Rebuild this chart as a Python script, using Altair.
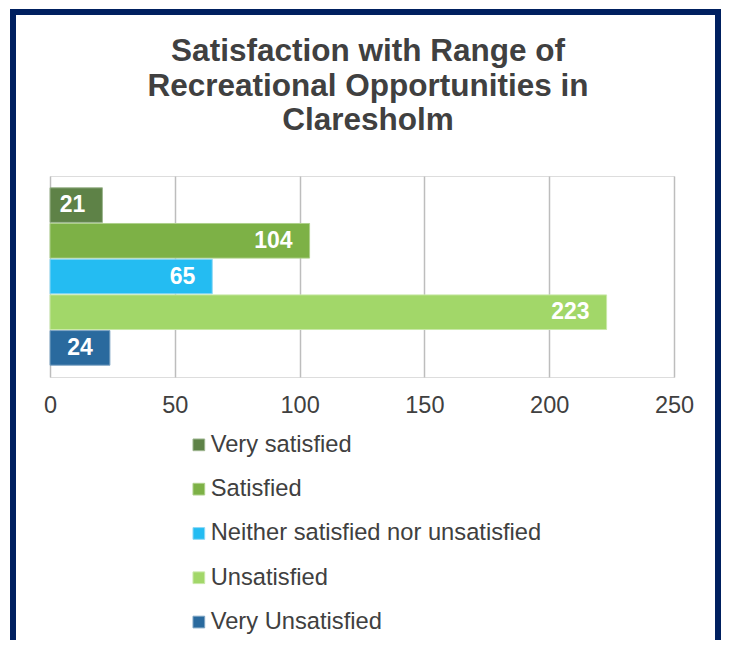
import altair as alt
import pandas as pd

categories = ["Very satisfied", "Satisfied", "Neither satisfied nor unsatisfied",
              "Unsatisfied", "Very Unsatisfied"]
counts = [21, 104, 65, 223, 24]
fill_colors = ["#5E8247", "#7DB146", "#24BCF2", "#A2D769", "#2A6A9E"]
edge_colors = ["#9DB58F", "#AED08A", "#8ED8F5", "#C9E8A8", "#7FA5C4"]
tick_values = [0, 50, 100, 150, 200, 250]
title_lines = ["Satisfaction with Range of", "Recreational Opportunities in", "Claresholm"]

df = pd.DataFrame({"Response": categories, "Count": counts})

FONT = "Liberation Sans"
TXT = "#404040"

y_enc = alt.Y("Response:N", sort=categories, axis=None,
              scale=alt.Scale(paddingInner=0.03, paddingOuter=0.33))
x_enc = alt.X("Count:Q", scale=alt.Scale(domain=[0, 250], nice=False),
              axis=alt.Axis(values=tick_values, title=None, domain=False, ticks=False,
                            labelFlush=False, labelPadding=16, labelFontSize=23.5,
                            labelColor=TXT, labelFont=FONT, grid=True,
                            gridColor="#bdbdbd", gridWidth=1.5))

legend = alt.Legend(title=None, orient="none", legendX=137, legendY=257,
                    direction="vertical", symbolType="square", symbolSize=137,
                    symbolStrokeWidth=1, labelFontSize=23.7, labelColor=TXT,
                    labelFont=FONT, labelLimit=0, rowPadding=19.3, labelOffset=0)

bars = alt.Chart(df).mark_bar(strokeWidth=1).encode(
    x=x_enc,
    y=y_enc,
    fill=alt.Fill("Response:N", scale=alt.Scale(domain=categories, range=fill_colors), legend=legend),
    stroke=alt.Stroke("Response:N", scale=alt.Scale(domain=categories, range=edge_colors), legend=legend),
)

labels = alt.Chart(df).mark_text(
    align="right", baseline="middle", dx=-17, color="white",
    fontSize=23, fontWeight="bold", font=FONT
).encode(
    x=alt.X("Count:Q"),
    y=alt.Y("Response:N", sort=categories),
    text=alt.Text("Count:Q"),
)

border = alt.Chart(alt.Data(values=[{"b": 1}])).mark_rect(
    filled=False, stroke="#002060", strokeWidth=6
).encode(
    x=alt.value(-37), x2=alt.value(668), y=alt.value(-164), y2=alt.value(600)
)

chart = alt.layer(bars, labels, border).properties(
    width=624,
    height=201,
    autosize=alt.AutoSizeParams(type="none"),
    padding={"left": 42, "top": 168, "right": 47, "bottom": 263},
    title=alt.TitleParams(text=title_lines, fontSize=31.5, font=FONT, fontWeight="bold",
                          color=TXT, lineHeight=34.7, anchor="middle", dx=6, offset=-128),
).configure_view(strokeWidth=0).configure(background="white")

chart.save("out.html", embed_options={"renderer": "svg", "actions": False})
